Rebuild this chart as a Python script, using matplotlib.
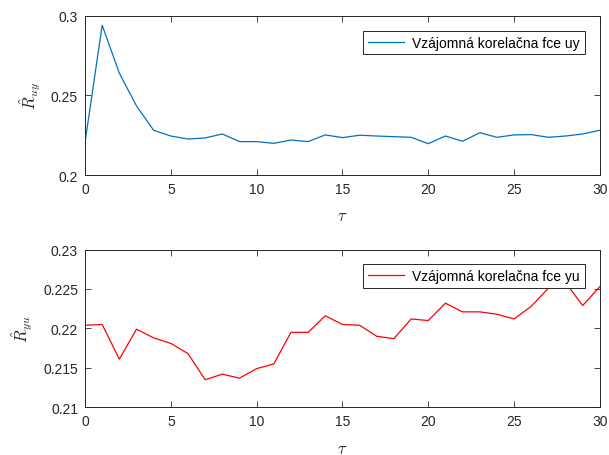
import matplotlib
matplotlib.use("Agg")
import matplotlib.pyplot as plt

plt.rcParams['font.family'] = ['Liberation Sans', 'DejaVu Sans']
plt.rcParams['mathtext.fontset'] = 'cm'

tau = list(range(31))
R_uy = [0.2204, 0.2941, 0.2640, 0.2434, 0.2281, 0.2245, 0.2226, 0.2233, 0.2258, 0.2210,
        0.2210, 0.2199, 0.2220, 0.2210, 0.2252, 0.2235, 0.2250, 0.2245, 0.2241, 0.2237,
        0.2197, 0.2245, 0.2212, 0.2266, 0.2237, 0.2252, 0.2254, 0.2237, 0.2245, 0.2258,
        0.2281]
R_yu = [0.2204, 0.2205, 0.2161, 0.2199, 0.2188, 0.2181, 0.2168, 0.2135, 0.2142, 0.2137,
        0.2149, 0.2155, 0.2195, 0.2195, 0.2216, 0.2205, 0.2204, 0.2190, 0.2187, 0.2212,
        0.2210, 0.2232, 0.2221, 0.2221, 0.2218, 0.2212, 0.2228, 0.2251, 0.2258, 0.2229,
        0.2253]

axc = '#262626'
fig = plt.figure(figsize=(6.09, 4.56), dpi=100)
ax1 = fig.add_axes([0.1396, 0.614, 0.8454, 0.349])
ax2 = fig.add_axes([0.1396, 0.1046, 0.8454, 0.346])

def style(ax, yticks, ylim, ylabel):
    ax.set_xlim(0, 30)
    ax.set_ylim(*ylim)
    ax.set_xticks([0, 5, 10, 15, 20, 25, 30])
    ax.set_yticks(yticks)
    ax.set_yticklabels([('%g' % v) for v in yticks])
    ax.tick_params(direction='in', top=True, right=True, colors=axc,
                   labelsize=10, length=4, width=0.6, pad=5)
    for s in ax.spines.values():
        s.set_color(axc)
        s.set_linewidth(0.7)
    ax.set_xlabel(r'$\tau$', fontsize=12, color=axc, labelpad=9)
    ax.set_ylabel(ylabel, fontsize=12, color=axc, labelpad=6)

ax1.plot(tau, R_uy, color='#0072BD', lw=0.9, label='Vzájomná korelačna fce uy')
style(ax1, [0.2, 0.25, 0.3], (0.2, 0.3), r'$\hat{R}_{uy}$')
ax2.plot(tau, R_yu, color='#FF0000', lw=0.9, label='Vzájomná korelačna fce yu')
style(ax2, [0.21, 0.215, 0.22, 0.225, 0.23], (0.21, 0.23), r'$\hat{R}_{yu}$')

for ax in (ax1, ax2):
    leg = ax.legend(loc='upper right', bbox_to_anchor=(0.971, 0.907), fontsize=10,
                    fancybox=False, framealpha=1, edgecolor=axc, handlelength=2.6,
                    borderpad=0.35, handletextpad=0.6, borderaxespad=0)
    leg.get_frame().set_linewidth(0.7)

fig.savefig('out.png', dpi=100)
